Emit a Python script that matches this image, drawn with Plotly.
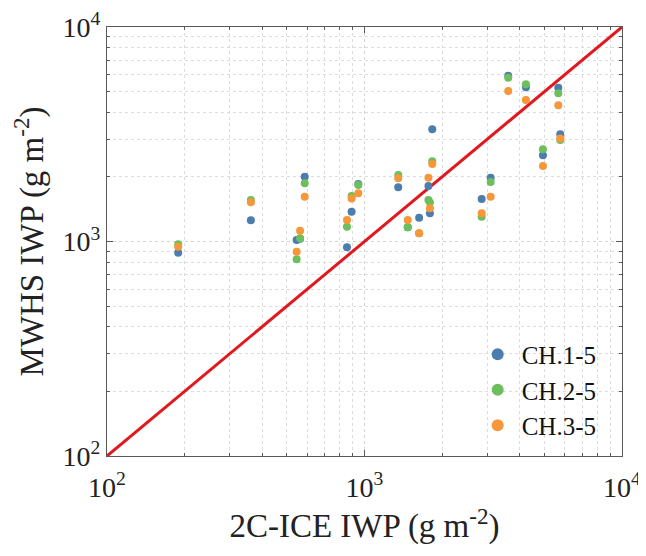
import plotly.graph_objects as go

# 2C-ICE IWP (x) shared by all series
x_iwp = [189, 362, 545, 562, 586, 855, 891, 946, 1352, 1472, 1630, 1771, 1795,
         1833, 2851, 3090, 3616, 4236, 4932, 5657, 5757]
ch1_5 = [887, 1256, 1016, 1030, 2005, 940, 1377, 1852, 1790, 1165, 1291, 1816, 1353,
         3335, 1578, 1983, 5929, 5236, 2524, 5213, 3164]
ch2_5 = [970, 1560, 826, 1035, 1868, 1170, 1630, 1832, 2042, 1165, 1092, 1560, 1518,
         2366, 1306, 1893, 5800, 5410, 2691, 4908, 2974]
ch3_5 = [946, 1524, 896, 1123, 1617, 1259, 1587, 1679, 1972, 1259, 1092, 1982, 1429,
         2297, 1353, 1617, 5031, 4571, 2248, 4316, 3024]

one_to_one = [100, 10000]
tick_vals = [100, 1000, 10000]
tick_text = ["10<sup>2</sup>", "10<sup>3</sup>", "10<sup>4</sup>"]

series = [("CH.1-5", ch1_5, "#4C7DAF"), ("CH.2-5", ch2_5, "#6CBF5C"), ("CH.3-5", ch3_5, "#F7973A")]

fig = go.Figure()
fig.add_trace(go.Scatter(x=one_to_one, y=one_to_one, mode="lines",
                         line=dict(color="#E0191E", width=3), showlegend=False, hoverinfo="skip"))
for name, vals, col in series:
    fig.add_trace(go.Scatter(x=x_iwp, y=vals, mode="markers", name=name,
                             marker=dict(color=col, size=8, line=dict(width=0))))

font = "Liberation Serif, Times New Roman, serif"
axis_common = dict(
    type="log", range=[2, 4], tickvals=tick_vals, ticktext=tick_text, automargin=False,
    showgrid=True, gridcolor="#d4d4d4", griddash="dot", gridwidth=1,
    showline=True, linecolor="#5a5a5a", linewidth=1, mirror="allticks",
    ticks="inside", ticklen=6, tickcolor="#5a5a5a",
    minor=dict(dtick="D1", showgrid=True, gridcolor="#dcdcdc", griddash="dot",
               ticks="inside", ticklen=3, tickcolor="#5a5a5a"),
    tickfont=dict(family=font, size=28, color="#222"), zeroline=False,
)
fig.update_xaxes(**axis_common, ticklabelstandoff=6,
                 title=dict(text="2C-ICE IWP (g m<sup>-2</sup>)", font=dict(family=font, size=33, color="#222"),
                            standoff=12))
fig.update_yaxes(**axis_common,
                 title=dict(text="MWHS IWP (g m<sup>-2</sup>)", font=dict(family=font, size=33, color="#222"),
                            standoff=12))

fig.update_layout(
    width=646, height=556, plot_bgcolor="white", paper_bgcolor="white",
    margin=dict(l=99, r=32, t=19, b=108),
    legend=dict(x=0.712, y=0.29, xanchor="left", yanchor="top", bgcolor="rgba(0,0,0,0)",
                font=dict(family=font, size=25, color="#111"), itemsizing="constant",
                tracegroupgap=0, itemwidth=38),
)
fig.write_html("out.html")
